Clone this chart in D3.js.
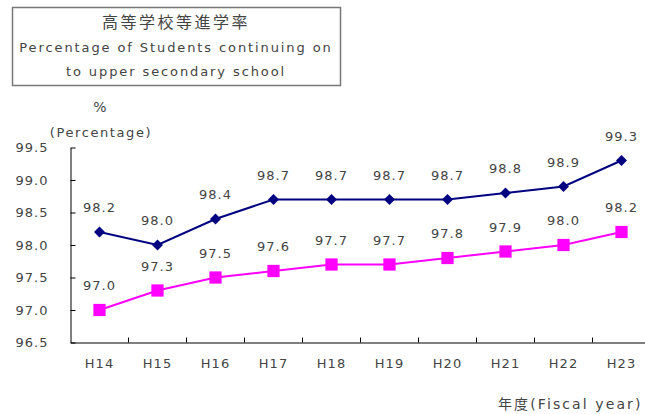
<!DOCTYPE html>
<html>
<head>
<meta charset="utf-8">
<script src="https://d3js.org/d3.v7.min.js"></script>
<style>
  body { margin: 0; background: #fff; }
  text { font-family: "DejaVu Sans", "Noto Sans CJK JP", sans-serif; fill: #444; }
</style>
</head>
<body>
<div id="chart"></div>
<script>
// data
var years = ["H14", "H15", "H16", "H17", "H18", "H19", "H20", "H21", "H22", "H23"];
var upper = [98.2, 98.0, 98.4, 98.7, 98.7, 98.7, 98.7, 98.8, 98.9, 99.3];
var lower = [97.0, 97.3, 97.5, 97.6, 97.7, 97.7, 97.8, 97.9, 98.0, 98.2];
var yTicks = [96.5, 97.0, 97.5, 98.0, 98.5, 99.0, 99.5];

var svg = d3.select("#chart").append("svg")
  .attr("width", 645).attr("height", 414);

// title box
svg.append("rect")
  .attr("x", 12.5).attr("y", 7.5).attr("width", 328).attr("height", 78)
  .attr("fill", "#fff").attr("stroke", "#777").attr("stroke-width", 1.5);
var titles = [
  {t: "高等学校等進学率", size: 16, ls: 2.5, y: 28},
  {t: "Percentage of  Students continuing on", size: 13, ls: 1.9, y: 52},
  {t: "to upper secondary school", size: 13, ls: 1.9, y: 76}
];
svg.selectAll(".ttl").data(titles).enter().append("text")
  .attr("x", 176).attr("y", function(d) { return d.y; })
  .attr("text-anchor", "middle")
  .style("font-size", function(d) { return d.size + "px"; })
  .style("letter-spacing", function(d) { return d.ls + "px"; })
  .text(function(d) { return d.t; });

// scales
var x = d3.scaleBand().domain(years).range([70.5, 650.5]);
var y = d3.scaleLinear().domain([96.5, 99.5]).range([342.5, 147.5]);

// axes
var yAxis = d3.axisLeft(y).tickValues(yTicks).tickSize(-5).tickSizeOuter(0)
  .tickFormat(d3.format(".1f"));
var gy = svg.append("g").attr("transform", "translate(70.5,0)").call(yAxis);
gy.selectAll("text").attr("x", -22).style("font-size", "13px").style("letter-spacing", "1px");

var xAxis = d3.axisBottom(x).tickSize(0).tickSizeOuter(0);
var gx = svg.append("g").attr("transform", "translate(0,342.5)").call(xAxis);
gx.selectAll("text").attr("dy", "1.7em").style("font-size", "13px").style("letter-spacing", "1px");
// ticks between categories
gx.selectAll(".sep").data(years.slice(1)).enter().append("line")
  .attr("x1", function(d) { return x(d); }).attr("x2", function(d) { return x(d); })
  .attr("y1", 0).attr("y2", -5).attr("stroke", "#000");
svg.selectAll(".domain, .tick line").attr("stroke", "#000");

// axis titles
svg.append("text").attr("x", 100).attr("y", 112).attr("text-anchor", "middle")
  .style("font-size", "14px").text("%");
svg.append("text").attr("x", 101).attr("y", 137).attr("text-anchor", "middle")
  .style("font-size", "13px").style("letter-spacing", "1.6px").text("(Percentage)");
svg.append("text").attr("x", 498).attr("y", 409)
  .style("font-size", "14px").style("letter-spacing", "2.1px").text("年度(Fiscal year)");

var cx = function(d, i) { return x(years[i]) + x.bandwidth() / 2; };
var line = d3.line().x(cx).y(function(d) { return y(d); });

function series(vals, color, shape, size, rot) {
  svg.append("path").datum(vals).attr("d", line)
    .attr("fill", "none").attr("stroke", color).attr("stroke-width", 2);
  svg.selectAll(null).data(vals).enter().append("path")
    .attr("d", d3.symbol().type(shape).size(size))
    .attr("transform", function(d, i) { return "translate(" + cx(d, i) + "," + y(d) + ") rotate(" + rot + ")"; })
    .attr("fill", color);
  svg.selectAll(null).data(vals).enter().append("text")
    .attr("x", cx).attr("y", function(d) { return y(d) - 20; })
    .attr("text-anchor", "middle").style("font-size", "13px").style("letter-spacing", "1px")
    .text(function(d) { return d.toFixed(1); });
}
series(upper, "#000080", d3.symbolSquare, 60, 45);
series(lower, "#ff00ff", d3.symbolSquare, 150, 0);
</script>
</body>
</html>
